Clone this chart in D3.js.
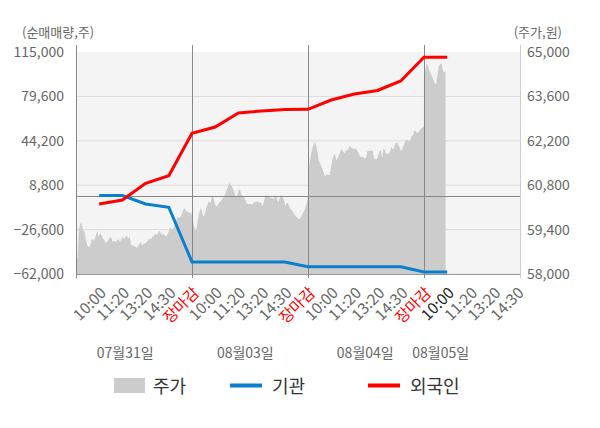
<!DOCTYPE html>
<html>
<head>
<meta charset="utf-8">
<script src="https://cdn.jsdelivr.net/npm/d3@7"></script>
<style>
  body { margin: 0; background: #fff; }
  text { font-family: "Noto Sans CJK KR", "Noto Sans", sans-serif; }
</style>
</head>
<body>
<div id="chart"></div>
<script>
// --- data ---
const dayLabels = ["07월31일", "08월03일", "08월04일", "08월05일"];
const timeLabels = ["10:00", "11:20", "13:20", "14:30", "장마감"];
const leftTicks = [-62000, -26600, 8800, 44200, 79600, 115000];
const rightTicks = [58000, 59400, 60800, 62200, 63600, 65000];

// net buying, one value per time slot (10:00 of day 1 .. 10:00 of day 4)
const foreign = [-6200, -3000, 10300, 16400, 50200, 55200, 66400, 68000, 69200, 69300,
                 76700, 81500, 84300, 91900, 110800, 110800];
const institution = [500, 500, -6200, -8800, -52400, -52400, -52400, -52400, -52400, -56200,
                     -56200, -56200, -56200, -56200, -60400, -60400];

// intraday price per day
const price0731 = [58700, 58460, 59390, 59600, 59580, 59390, 59340, 59070, 58910, 58840, 58910, 59070,
  59090, 59090, 59200, 59360, 59180, 59280, 59230, 59120, 59070, 58970, 59020, 59070, 59180, 59120,
  59020, 59050, 58990, 59070, 59090, 59020, 59090, 59180, 59090, 59180, 59200, 59120, 59180, 58910,
  58900, 58880, 58860, 58810, 58910, 58950, 59020, 58910, 58950, 58970, 59020, 59070, 59120, 59090,
  59180, 59200, 59280, 59230, 59280, 59360, 59280, 59230, 59260, 59180, 59200, 59280, 59390, 59490,
  59390, 59440, 59550, 59700, 59810, 59760, 59810, 59910, 60040, 60070, 59970, 59970, 59930, 59930, 59860];
const price0803 = [59970, 59600, 59440, 59340, 59600, 59860, 60020, 60070, 59860, 59810, 59970, 60120,
  60230, 60280, 60230, 60460, 60440, 60230, 60140, 60140, 60230, 60280, 60310, 60390, 60440, 60520,
  60650, 60750, 60880, 60810, 60750, 60650, 60540, 60420, 60490, 60630, 60670, 60490, 60460, 60440,
  60330, 60230, 60210, 60210, 60210, 60180, 60230, 60280, 60270, 60310, 60250, 60270, 60230, 60140,
  60280, 60460, 60490, 60440, 60420, 60390, 60410, 60350, 60440, 60490, 60330, 60270, 60440, 60490,
  60420, 60330, 60140, 60230, 60250, 60120, 60040, 60000, 59930, 59860, 59810, 59780, 59720, 59760,
  59830, 59910, 59970, 60070, 60230, 60440];
const price0804 = [60860, 61490, 61700, 61910, 62070, 62140, 62070, 61860, 61590, 61490, 61390, 61280,
  61150, 61070, 61150, 61120, 61120, 61330, 61590, 61720, 61780, 61590, 61650, 61750, 61860, 61960,
  61860, 61810, 61890, 61910, 61930, 62040, 61990, 61960, 61960, 61930, 61930, 61860, 61750, 61700,
  61700, 61680, 61650, 61650, 61860, 61890, 61890, 61890, 61890, 61650, 61620, 61620, 61720, 61860,
  61910, 61650, 61960, 61910, 61780, 61780, 61810, 61890, 62020, 61910, 62020, 62120, 62140, 62070,
  61990, 61890, 61930, 62070, 62170, 62250, 62200, 62170, 62250, 62350, 62380, 62540, 62490, 62440,
  62490, 62540, 62590, 62630, 62670];
const price0805 = [64220, 64430, 64640, 64560, 64410, 64330, 64220, 64120, 64010, 63990, 64280, 64540,
  64620, 64640, 64430, 64350, 64380];
const priceDays = [price0731, price0803, price0804, price0805];

// --- layout ---
const W = 600, H = 428;
const L = 76, R = 520, T = 52, B = 274;
const slotsPerDay = 5;
const xEnd = 19.14; // last visible slot position

const svg = d3.select("#chart").append("svg").attr("width", W).attr("height", H);

const x = d3.scaleLinear().domain([0, xEnd]).range([L, R]);
const yL = d3.scaleLinear().domain([-62000, 115000]).range([B, T]);
const yR = d3.scaleLinear().domain([58000, 65000]).range([B, T]);

svg.append("rect").attr("x", L).attr("y", T).attr("width", R - L).attr("height", B - T).attr("fill", "#f4f4f4");

// grid
svg.append("g").selectAll("line").data(leftTicks.slice(0, -1)).join("line")
  .attr("x1", L).attr("x2", R).attr("y1", d => yL(d)).attr("y2", d => yL(d))
  .attr("stroke", "#dcdcdc").attr("stroke-width", 1);

// price area
const step = slotsPerDay / (price0804.length - 1);
const pricePts = [];
priceDays.forEach((arr, d) => {
  const s = d < 3 ? slotsPerDay / (arr.length - 1) : step;
  arr.forEach((p, i) => pricePts.push([d * slotsPerDay + i * s, p]));
});
svg.append("path").datum(pricePts)
  .attr("fill", "#cccccc")
  .attr("d", d3.area().x(d => x(d[0])).y0(B).y1(d => yR(d[1])));

// zero line
svg.append("line").attr("x1", L).attr("x2", R).attr("y1", Math.round(yL(0)) + 0.5).attr("y2", Math.round(yL(0)) + 0.5)
  .attr("stroke", "#888").attr("stroke-width", 1);

// bottom axis line
svg.append("line").attr("x1", L).attr("x2", R).attr("y1", B + 0.5).attr("y2", B + 0.5)
  .attr("stroke", "#999").attr("stroke-width", 1);

// day separators + left axis
const seps = [0, 5, 10, 15];
svg.append("g").selectAll("line").data(seps).join("line")
  .attr("x1", d => Math.round(x(d)) + 0.5).attr("x2", d => Math.round(x(d)) + 0.5)
  .attr("y1", T - 7).attr("y2", B + 4)
  .attr("stroke", "#888").attr("stroke-width", 1);
svg.append("line").attr("x1", R + 0.5).attr("x2", R + 0.5).attr("y1", T - 7).attr("y2", B + 4)
  .attr("stroke", "#ccc").attr("stroke-width", 1);

// lines
const slotX = (d, i) => x(i + 1);
const line = d3.line().x((d, i) => slotX(d, i)).y(d => yL(d));
svg.append("path").datum(institution).attr("fill", "none").attr("stroke", "#0a7fcc")
  .attr("stroke-width", 3).attr("d", line);
svg.append("path").datum(foreign).attr("fill", "none").attr("stroke", "#ff0000")
  .attr("stroke-width", 3).attr("d", line);

// y labels
svg.append("g").selectAll("text").data(leftTicks).join("text")
  .attr("x", 64).attr("y", d => yL(d)).attr("dy", "0.36em")
  .attr("text-anchor", "end").attr("font-size", 14).attr("fill", "#666")
  .text(d => d3.format(",")(d));
svg.append("g").selectAll("text").data(rightTicks).join("text")
  .attr("x", 527).attr("y", d => yR(d)).attr("dy", "0.36em")
  .attr("text-anchor", "start").attr("font-size", 14).attr("fill", "#666")
  .text(d => d3.format(",")(d));
svg.append("text").attr("x", 22).attr("y", 37).attr("font-size", 13).attr("fill", "#666").text("(순매매량,주)");
svg.append("text").attr("x", 562).attr("y", 37).attr("text-anchor", "end").attr("font-size", 13).attr("fill", "#666").text("(주가,원)");

// x labels
const xLabels = [];
for (let d = 0; d < dayLabels.length; d++) {
  timeLabels.forEach((t, k) => {
    const pos = d * slotsPerDay + k + 1;
    if (pos <= xEnd) xLabels.push({ pos, t, cur: d === 3 && k === 0 });
  });
}
svg.append("g").selectAll("text").data(xLabels).join("text")
  .attr("transform", d => `translate(${x(d.pos) + 8},${294}) rotate(-45)`)
  .attr("text-anchor", "end").attr("font-size", 15.5)
  .attr("fill", d => d.t === "장마감" ? "#ff0000" : (d.cur ? "#222" : "#666"))
  .text(d => d.t);

// date labels
const dateAt = [2.12, 7.3, 12.47, 15.72];
svg.append("g").selectAll("text").data(dayLabels).join("text")
  .attr("x", (d, i) => x(dateAt[i])).attr("y", 358)
  .attr("text-anchor", "middle").attr("font-size", 14).attr("fill", "#666")
  .text(d => d);

// legend
const lg = svg.append("g").attr("font-size", 18).attr("fill", "#333");
lg.append("rect").attr("x", 114).attr("y", 378).attr("width", 31).attr("height", 15).attr("fill", "#cccccc");
lg.append("text").attr("x", 153).attr("y", 393).text("주가");
lg.append("line").attr("x1", 230).attr("x2", 262).attr("y1", 385.5).attr("y2", 385.5).attr("stroke", "#0a7fcc").attr("stroke-width", 4);
lg.append("text").attr("x", 272).attr("y", 393).text("기관");
lg.append("line").attr("x1", 368).attr("x2", 400).attr("y1", 385.5).attr("y2", 385.5).attr("stroke", "#ff0000").attr("stroke-width", 4);
lg.append("text").attr("x", 410).attr("y", 393).text("외국인");
</script>
</body>
</html>
